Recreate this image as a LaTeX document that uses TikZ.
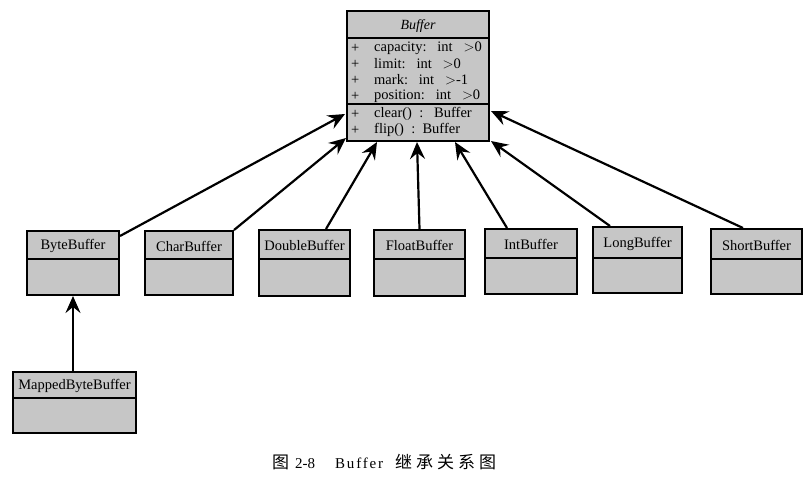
\documentclass[tikz,border=0pt]{standalone}
\usepackage{fontspec}
\setmainfont{Liberation Serif}
\newfontfamily\cjk{Noto Sans CJK SC}
\usetikzlibrary{arrows.meta,calc}
\definecolor{boxgray}{RGB}{198,198,198}
\tikzset{
  cls/.style={draw=black, fill=boxgray, line width=2pt, inner sep=0pt},
  lbl/.style={inner sep=0pt, font=\fontsize{14.5}{16}\selectfont},
  mem/.style={inner sep=0pt, anchor=west, font=\fontsize{14.5}{16}\selectfont},
  divider/.style={line width=2pt},
  inh/.style={line width=2.2pt, -{Stealth[length=17pt,width=15pt,inset=6pt]}},
  capt/.style={inner sep=0pt, anchor=base west},
}
\newcommand\classbox[7]{% name, x1, x2, y1, ydiv, y2, label
  \node[cls, minimum width=#3pt-#2pt, minimum height=#6pt-#4pt] (#1) at ({(#2+#3)/2},{(#4+#6)/2}) {};
  \draw[divider] (#2,#5) -- (#3,#5);
  \node[lbl] (#1t) at ({(#2+#3)/2},{(#4+#5)/2+1}) {#7};
}
\begin{document}
\begin{tikzpicture}[x=1pt,y=-1pt]
\useasboundingbox[fill=white] (0,0) rectangle (811,485);
% Buffer
\node[cls, minimum width=142pt, minimum height=130pt] (buf) at (418,76) {};
\draw[divider] (347,38) -- (489,38);
\draw[divider] (347,104) -- (489,104);
\node[lbl, font=\fontsize{14}{16}\selectfont\itshape] (buft) at (418,26) {Buffer};
\foreach \yy/\txt [count=\i] in {48/{capacity:\ \ \ int\ \ \ $>$0},64/{limit:\ \ \ int\ \ \ $>$0},80/{mark:\ \ \ int\ \ \ $>$-1},96/{position:\ \ \ int\ \ \ $>$0},114/{clear()\ \ :\ \ \ Buffer},130/{flip()\ \ :\ \ Buffer}}{
  \node[mem] (p\i) at (351,\yy) {+};
  \node[mem] (m\i) at (374,\yy) {\txt};
}
% children
\classbox{byte}{27}{119}{231}{259}{295}{ByteBuffer}
\classbox{char}{145}{233}{231}{259}{295}{CharBuffer}
\classbox{dbl}{259}{350}{230}{259}{296}{DoubleBuffer}
\classbox{flt}{374}{465}{230}{259}{296}{FloatBuffer}
\classbox{int}{485}{577}{229}{258}{294}{IntBuffer}
\classbox{lng}{593}{682}{227}{258}{293}{LongBuffer}
\classbox{shrt}{711}{802}{229}{259}{294}{ShortBuffer}
\classbox{mbb}{13}{136}{372}{398}{433}{MappedByteBuffer}
% inheritance arrows
\draw[inh] ($(byte.north east)+(0,6)$) -- ($(buf.north west)+(-1,104)$);
\draw[inh] (char.north east) -- ($(buf.south west)+(0,-4)$);
\draw[inh] ($(dbl.north east)+(-25,0)$) -- ($(buf.south west)+(31,0)$);
\draw[inh] (flt.north) -- ($(buf.south west)+(71,0)$);
\draw[inh] ($(int.north west)+(23,0)$) -- ($(buf.south west)+(109,0)$);
\draw[inh] ($(lng.north west)+(18,0)$) -- ($(buf.south east)+(1,-1)$);
\draw[inh] ($(shrt.north west)+(33,0)$) -- ($(buf.north east)+(1,101)$);
\draw[inh] (mbb.north -| byte.south) -- (byte.south);
% caption
\node[capt, font=\fontsize{17}{18}\selectfont\cjk] (cap1) at (272,468) {图};
\node[capt, font=\fontsize{15}{18}\selectfont] (cap2) at (295,468) {2-8};
\node[capt, font=\fontsize{15}{18}\selectfont\addfontfeature{LetterSpace=12}] (cap3) at (335,468) {Buffer};
\node[capt, font=\fontsize{17}{18}\selectfont\cjk] (cap4) at (395,468) {继\hspace{4pt}承\hspace{4pt}关\hspace{4pt}系\hspace{4pt}图};
\end{tikzpicture}
\end{document}
